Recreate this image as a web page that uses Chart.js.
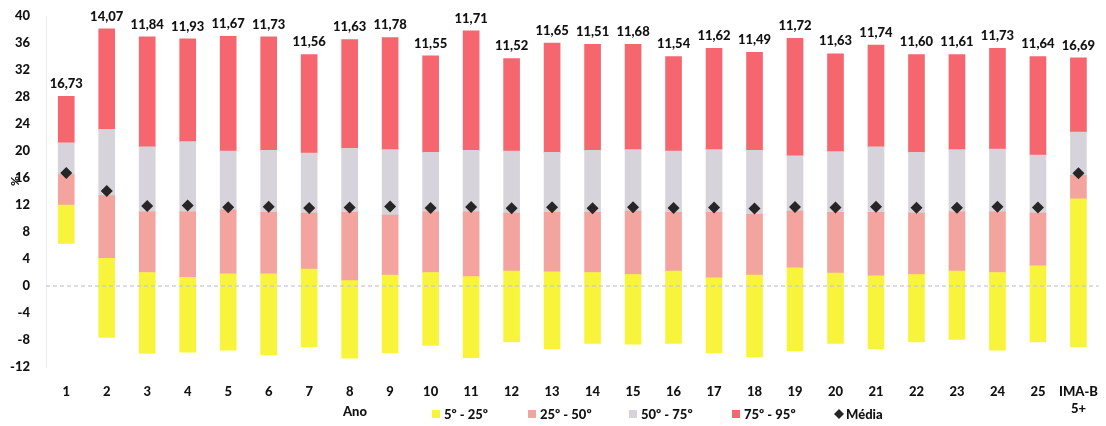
<!DOCTYPE html>
<html>
<head>
<meta charset="utf-8">
<script src="https://cdn.jsdelivr.net/npm/chart.js@4"></script>
<style>
  html, body { margin: 0; padding: 0; background: #fff; }
  #wrap { width: 1106px; height: 426px; }
</style>
</head>
<body>
<div id="wrap"><canvas id="chart" width="1106" height="426"></canvas></div>
<script>
// prazos (anos) + índice de referência
const categories = ["1", "2", "3", "4", "5", "6", "7", "8", "9", "10", "11", "12", "13",
  "14", "15", "16", "17", "18", "19", "20", "21", "22", "23", "24", "25", ["IMA-B", "5+"]];

// percentis dos retornos (%)
const p5 = [6.3, -7.6, -10.0, -9.8, -9.5, -10.2, -9.0, -10.7, -9.9, -8.8, -10.6, -8.3, -9.3,
  -8.5, -8.6, -8.5, -9.9, -10.5, -9.6, -8.5, -9.3, -8.3, -7.9, -9.5, -8.3, -9.0];
const p25 = [12.0, 4.1, 2.0, 1.3, 1.8, 1.8, 2.5, 0.8, 1.6, 2.0, 1.4, 2.2, 2.1,
  2.0, 1.7, 2.2, 1.2, 1.6, 2.7, 1.9, 1.5, 1.7, 2.2, 2.0, 3.0, 12.9];
const p50 = [16.5, 13.4, 11.0, 11.0, 11.3, 10.9, 10.8, 10.9, 10.5, 11.0, 11.0, 10.8, 10.9,
  10.9, 11.1, 10.9, 10.9, 10.6, 11.1, 10.9, 10.9, 10.8, 11.0, 11.0, 10.8, 16.4];
const p75 = [21.2, 23.2, 20.6, 21.4, 20.0, 20.1, 19.7, 20.4, 20.2, 19.8, 20.1, 20.0, 19.8,
  20.1, 20.2, 20.0, 20.2, 20.1, 19.3, 19.9, 20.6, 19.8, 20.2, 20.3, 19.4, 22.8];
const p95 = [28.1, 38.1, 36.9, 36.6, 37.0, 36.9, 34.3, 36.5, 36.8, 34.1, 37.8, 33.7, 36.0,
  35.8, 35.8, 34.0, 35.2, 34.6, 36.7, 34.4, 35.7, 34.3, 34.3, 35.2, 34.0, 33.8];
const media = [16.73, 14.07, 11.84, 11.93, 11.67, 11.73, 11.56, 11.63, 11.78, 11.55, 11.71, 11.52, 11.65,
  11.51, 11.68, 11.54, 11.62, 11.49, 11.72, 11.63, 11.74, 11.60, 11.61, 11.73, 11.64, 16.69];

const yTicks = { min: -12, max: 40, step: 4 };

const FONT = "Lato, 'Liberation Sans', sans-serif";
const colors = {
  yellow: "#f8f43c",
  pink: "#f3a49e",
  gray: "#d7d3db",
  red: "#f6666f",
  dark: "#262626",
};

const ranges = (lo, hi) => lo.map((v, i) => [v, hi[i]]);
const fmt = (v) => v.toFixed(2).replace(".", ",");

// posições x das entradas da legenda (linha inferior)
const legendX = [432, 528, 629, 732, 834];

const extras = {
  id: "extras",
  afterDatasetsDraw(chart) {
    const { ctx, chartArea, scales } = chart;
    const x = scales.x;
    const y = scales.y;

    // linha do zero
    const y0 = y.getPixelForValue(0);
    ctx.save();
    ctx.strokeStyle = "rgba(200,200,218,0.85)";
    ctx.lineWidth = 1.3;
    ctx.setLineDash([4, 3]);
    ctx.beginPath();
    ctx.moveTo(chartArea.left, y0);
    ctx.lineTo(chartArea.right, y0);
    ctx.stroke();
    ctx.restore();

    // rótulos com a média acima das barras
    ctx.save();
    ctx.font = "900 13px " + FONT;
    ctx.fillStyle = "#111";
    ctx.textAlign = "center";
    ctx.textBaseline = "bottom";
    media.forEach((m, i) => {
      ctx.fillText(fmt(m), x.getPixelForValue(i), y.getPixelForValue(p95[i]) - 6);
    });
    ctx.restore();
  },
  afterDraw(chart) {
    const { ctx } = chart;
    ctx.save();
    ctx.fillStyle = "#111";
    ctx.font = "900 12px " + FONT;

    // título do eixo y
    ctx.save();
    ctx.translate(15, 181);
    ctx.rotate(-Math.PI / 2);
    ctx.textAlign = "center";
    ctx.textBaseline = "middle";
    ctx.fillText("%", 0, 0);
    ctx.restore();

    // título do eixo x
    ctx.textAlign = "center";
    ctx.textBaseline = "middle";
    ctx.font = "900 13px " + FONT;
    ctx.fillText("Ano", 355, 412);

    // legenda
    const ly = 414;
    ctx.textAlign = "left";
    chart.data.datasets.forEach((ds, i) => {
      const lx = legendX[i];
      if (ds.type === "line") {
        ctx.fillStyle = ds.backgroundColor;
        ctx.beginPath();
        ctx.moveTo(lx + 5, ly - 5);
        ctx.lineTo(lx + 10, ly);
        ctx.lineTo(lx + 5, ly + 5);
        ctx.lineTo(lx, ly);
        ctx.closePath();
        ctx.fill();
        ctx.fillStyle = "#111";
        ctx.fillText(ds.label, lx + 12, ly + 1);
      } else {
        ctx.fillStyle = ds.backgroundColor;
        ctx.fillRect(lx, ly - 4, 8, 8);
        ctx.fillStyle = "#111";
        ctx.fillText(ds.label, lx + 12, ly + 1);
      }
    });
    ctx.restore();
  },
};

const barBase = { type: "bar", barThickness: 16, borderWidth: 0, order: 2 };

new Chart(document.getElementById("chart"), {
  type: "bar",
  data: {
    labels: categories,
    datasets: [
      { ...barBase, label: "5º - 25º", data: ranges(p5, p25), backgroundColor: colors.yellow },
      { ...barBase, label: "25º - 50º", data: ranges(p25, p50), backgroundColor: colors.pink },
      { ...barBase, label: "50º - 75º", data: ranges(p50, p75), backgroundColor: colors.gray },
      { ...barBase, label: "75º - 95º", data: ranges(p75, p95), backgroundColor: colors.red },
      {
        type: "line",
        label: "Média",
        data: media,
        showLine: false,
        pointStyle: "rectRot",
        pointRadius: 6,
        pointBorderWidth: 0,
        backgroundColor: colors.dark,
        borderColor: colors.dark,
        order: 1,
      },
    ],
  },
  options: {
    responsive: false,
    animation: false,
    layout: { padding: { top: 16, right: 2, left: 0, bottom: 0 } },
    scales: {
      x: {
        stacked: true,
        grid: { display: false },
        border: { display: false },
        ticks: {
          color: "#111",
          font: { family: FONT, size: 13, weight: "900", lineHeight: 1.3 },
          maxRotation: 0,
          autoSkip: false,
          padding: 8,
        },
        afterFit: (s) => { s.height = 59; },
      },
      y: {
        min: yTicks.min,
        max: yTicks.max,
        grid: { display: false },
        border: { display: true, color: "#ececec" },
        ticks: {
          stepSize: yTicks.step,
          color: "#111",
          font: { family: FONT, size: 13, weight: "900" },
          padding: 8,
        },
        afterFit: (s) => { s.width = 46; },
      },
    },
    plugins: {
      legend: { display: false },
      tooltip: { enabled: false },
    },
  },
  plugins: [extras],
});
</script>
</body>
</html>
